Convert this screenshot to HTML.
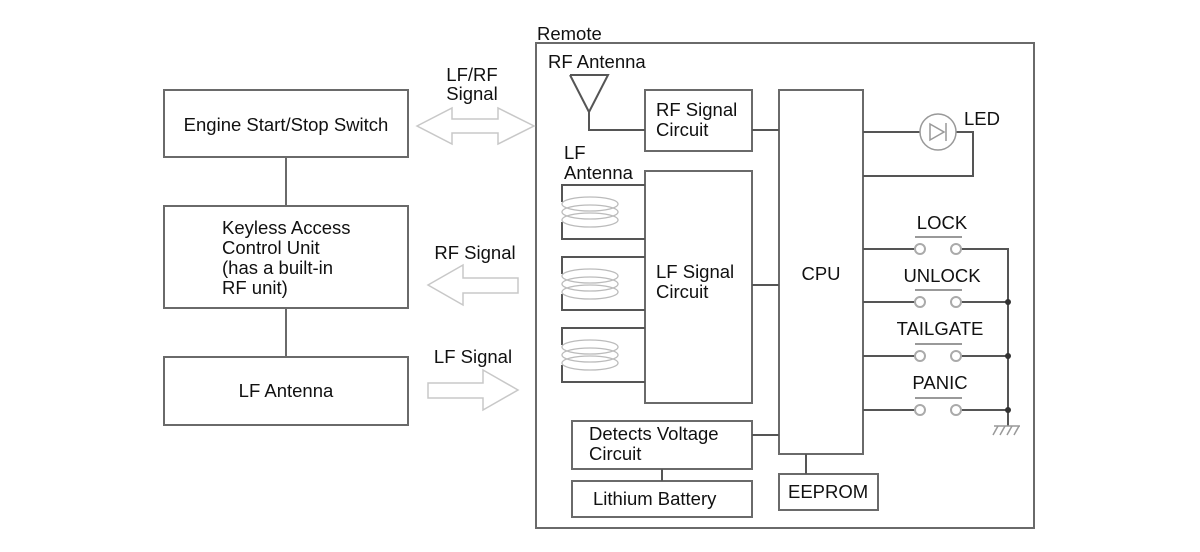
<!DOCTYPE html>
<html><head><meta charset="utf-8"><style>
html,body{margin:0;padding:0;background:#fff;}
svg{display:block;font-family:"Liberation Sans",Arial,sans-serif;}
text{font-size:18.5px;fill:#111;}
</style></head><body>
<svg width="1200" height="552" viewBox="0 0 1200 552">
<g fill="none" stroke="#6a6a6a" stroke-width="2">
<rect x="164" y="90" width="244" height="67"/>
<rect x="164" y="206" width="244" height="102"/>
<rect x="164" y="357" width="244" height="68"/>
<line x1="286" y1="157" x2="286" y2="206"/>
<line x1="286" y1="308" x2="286" y2="357"/>
<rect x="536" y="43" width="498" height="485"/>
<rect x="645" y="90" width="107" height="61"/>
<rect x="779" y="90" width="84" height="364"/>
<rect x="645" y="171" width="107" height="232"/>
<rect x="572" y="421" width="180" height="48"/>
<rect x="572" y="481" width="180" height="36"/>
<rect x="779" y="474" width="99" height="36"/>
</g>
<g fill="none" stroke="#555" stroke-width="2">
<polyline points="570,75 608,75 589,112 570,75"/>
<polyline points="589,112 589,130 645,130"/>
<line x1="752" y1="130" x2="779" y2="130"/>
<line x1="752" y1="285" x2="779" y2="285"/>
<line x1="752" y1="435" x2="779" y2="435"/>
<line x1="662" y1="469" x2="662" y2="481"/>
<line x1="806" y1="454" x2="806" y2="474"/>
<polyline points="645,185 562,185 562,202"/><polyline points="562,222 562,239 645,239"/>
<polyline points="645,257 562,257 562,274"/><polyline points="562,294 562,310 645,310"/>
<polyline points="645,328 562,328 562,345"/><polyline points="562,365 562,382 645,382"/>
<line x1="863" y1="132" x2="920" y2="132"/>
<polyline points="956,132 973,132 973,176 863,176"/>
<line x1="863" y1="249" x2="915" y2="249"/>
<line x1="863" y1="302" x2="915" y2="302"/>
<line x1="863" y1="356" x2="915" y2="356"/>
<line x1="863" y1="410" x2="915" y2="410"/>
<polyline points="961,249 1008,249 1008,426"/>
<line x1="961" y1="302" x2="1008" y2="302"/>
<line x1="961" y1="356" x2="1008" y2="356"/>
<line x1="961" y1="410" x2="1008" y2="410"/>
</g>
<g fill="#333"><circle cx="1008" cy="302" r="3"/><circle cx="1008" cy="356" r="3"/><circle cx="1008" cy="410" r="3"/></g>
<g stroke="#999" stroke-width="1.5" fill="none">
<line x1="994" y1="426" x2="1020" y2="426"/>
<line x1="998" y1="426" x2="993" y2="435"/><line x1="1005" y1="426" x2="1000" y2="435"/><line x1="1012" y1="426" x2="1007" y2="435"/><line x1="1019" y1="426" x2="1014" y2="435"/>
<circle cx="938" cy="132" r="18"/>
<polygon points="930,124 930,140 944,132"/><line x1="946" y1="123" x2="946" y2="141"/>
</g>
<g stroke="#aaa" stroke-width="2" fill="#fff">
<circle cx="920" cy="249" r="5"/><circle cx="956" cy="249" r="5"/>
<circle cx="920" cy="302" r="5"/><circle cx="956" cy="302" r="5"/>
<circle cx="920" cy="356" r="5"/><circle cx="956" cy="356" r="5"/>
<circle cx="920" cy="410" r="5"/><circle cx="956" cy="410" r="5"/>
</g>
<g stroke="#999" stroke-width="2">
<line x1="915" y1="237" x2="962" y2="237"/><line x1="915" y1="290" x2="962" y2="290"/>
<line x1="915" y1="344" x2="962" y2="344"/><line x1="915" y1="398" x2="962" y2="398"/>
</g>
<g stroke="#bbb" stroke-width="1.3" fill="none">
<ellipse cx="590" cy="204" rx="28" ry="7"/><ellipse cx="590" cy="212" rx="28" ry="7"/><ellipse cx="590" cy="220" rx="28" ry="7"/>
<ellipse cx="590" cy="276" rx="28" ry="7"/><ellipse cx="590" cy="284" rx="28" ry="7"/><ellipse cx="590" cy="292" rx="28" ry="7"/>
<ellipse cx="590" cy="347" rx="28" ry="7"/><ellipse cx="590" cy="355" rx="28" ry="7"/><ellipse cx="590" cy="363" rx="28" ry="7"/>
</g>
<g stroke="#c8c8c8" stroke-width="1.5" fill="#fff">
<polygon points="417,126 452,108 452,119 498,119 498,108 534,126 498,144 498,133 452,133 452,144"/>
<polygon points="428,285 463,265 463,278 518,278 518,293 463,293 463,305"/>
<polygon points="518,390 483,370 483,383 428,383 428,398 483,398 483,410"/>
</g>
<g>
<text x="286" y="131" text-anchor="middle">Engine Start/Stop Switch</text>
<text x="222" y="234">Keyless Access</text>
<text x="222" y="254">Control Unit</text>
<text x="222" y="274">(has a built-in</text>
<text x="222" y="294">RF unit)</text>
<text x="286" y="397" text-anchor="middle">LF Antenna</text>
<text x="472" y="81" text-anchor="middle">LF/RF</text>
<text x="472" y="100" text-anchor="middle">Signal</text>
<text x="475" y="259" text-anchor="middle">RF Signal</text>
<text x="473" y="363" text-anchor="middle">LF Signal</text>
<text x="537" y="40">Remote</text>
<text x="548" y="68">RF Antenna</text>
<text x="656" y="116">RF Signal</text>
<text x="656" y="136">Circuit</text>
<text x="564" y="159">LF</text>
<text x="564" y="179">Antenna</text>
<text x="656" y="278">LF Signal</text>
<text x="656" y="298">Circuit</text>
<text x="821" y="280" text-anchor="middle">CPU</text>
<text x="589" y="440">Detects Voltage</text>
<text x="589" y="460">Circuit</text>
<text x="593" y="505">Lithium Battery</text>
<text x="788" y="498">EEPROM</text>
<text x="964" y="125">LED</text>
<text x="942" y="229" text-anchor="middle">LOCK</text>
<text x="942" y="282" text-anchor="middle">UNLOCK</text>
<text x="940" y="335" text-anchor="middle">TAILGATE</text>
<text x="940" y="389" text-anchor="middle">PANIC</text>
</g>
</svg>
</body></html>
